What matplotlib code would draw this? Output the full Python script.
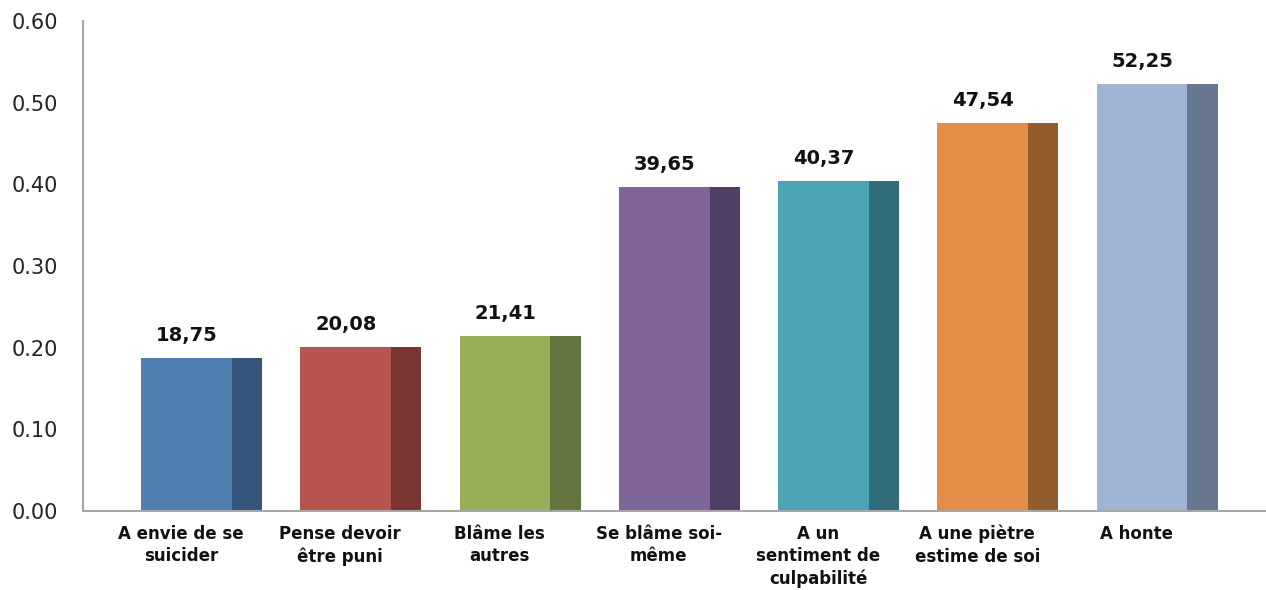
import matplotlib.pyplot as plt
import numpy as np

categories = ["A envie de se\nsuicider", "Pense devoir\nêtre puni", "Blâme les\nautres",
              "Se blâme soi-\nmême", "A un\nsentiment de\nculpabilité",
              "A une piètre\nestime de soi", "A honte"]
values = [0.1875, 0.2008, 0.2141, 0.3965, 0.4037, 0.4754, 0.5225]
labels = ["18,75", "20,08", "21,41", "39,65", "40,37", "47,54", "52,25"]
front_colors = ["#4F7EB1", "#B65450", "#97B058", "#80659B", "#4BA3B6", "#E28E48", "#A0B4D6"]
side_colors = ["#35557D", "#793534", "#63743D", "#503F64", "#2F6B78", "#935E2F", "#66778E"]

fig = plt.figure(figsize=(12.66, 5.90), dpi=100)
ax = fig.add_axes([0.0656, 0.134, 0.934, 0.8305])

x = np.arange(len(values))
front_w = 0.57
side_w = 0.19
start = x - 0.25
ax.bar(start, values, width=front_w, align='edge', color=front_colors)
ax.bar(start + front_w, values, width=side_w, align='edge', color=side_colors)

for xi, v, lab in zip(start + front_w / 2, values, labels):
    ax.text(xi, v + 0.016, lab, ha='center', va='bottom', fontsize=14,
            fontweight='bold', color='#111111')

ax.set_xlim(-0.615, 6.81)
ax.set_ylim(0, 0.6)
ax.set_yticks(np.arange(0, 0.61, 0.1))
ax.set_yticklabels(["%.2f" % t for t in np.arange(0, 0.61, 0.1)], fontsize=15, color='#222222')
ax.tick_params(axis='y', length=0, pad=18)
ax.set_xticks(x)
ax.set_xticklabels(categories, fontsize=12, fontweight='bold', color='#111111',
                   linespacing=1.3)
ax.tick_params(axis='x', length=0, pad=10)

for s in ['top', 'right']:
    ax.spines[s].set_visible(False)
ax.spines['left'].set_color('#A6A6A6')
ax.spines['left'].set_linewidth(1.5)
ax.spines['bottom'].set_color('#A6A6A6')
ax.spines['bottom'].set_linewidth(1.5)

fig.savefig('out.png', dpi=100)
